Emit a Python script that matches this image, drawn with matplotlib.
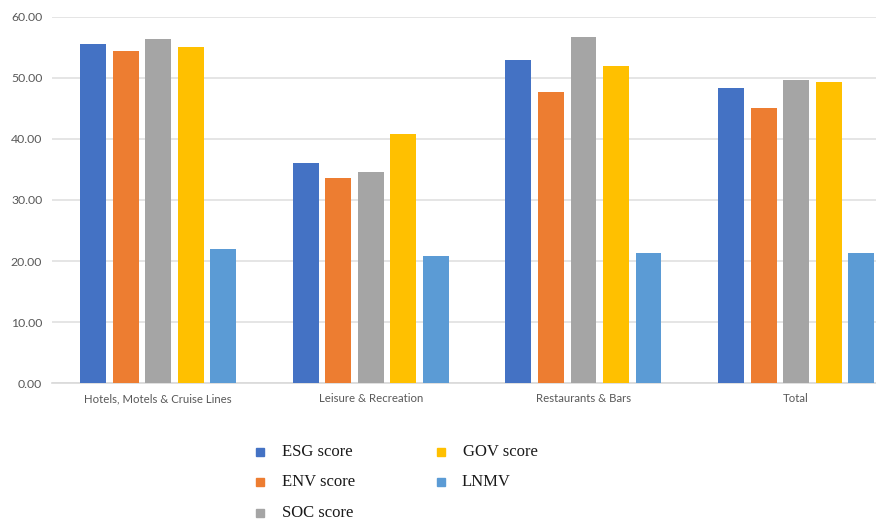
import matplotlib
matplotlib.use("Agg")
import matplotlib.pyplot as plt
from matplotlib.patches import Rectangle
import numpy as np

categories = ["Hotels, Motels & Cruise Lines", "Leisure & Recreation", "Restaurants & Bars", "Total"]
series_names = ["ESG score", "ENV score", "SOC score", "GOV score", "LNMV"]
esg = [55.5, 36.1, 52.9, 48.3]
env = [54.4, 33.6, 47.7, 45.1]
soc = [56.4, 34.6, 56.7, 49.6]
gov = [55.1, 40.8, 51.9, 49.3]
lnmv = [22.0, 20.8, 21.4, 21.4]
yticks = [0, 10, 20, 30, 40, 50, 60]

series = [esg, env, soc, gov, lnmv]
colors = ["#4472C4", "#ED7D31", "#A5A5A5", "#FFC000", "#5B9BD5"]

W, H = 876, 521
fig = plt.figure(figsize=(W / 100, H / 100), dpi=100)
ax = fig.add_axes([52 / W, (H - 383.3) / H, 1 - 52 / W, (383.3 - 16.7) / H])

x = np.arange(len(categories))
step = 0.153
width = 0.122
for i, (vals, c) in enumerate(zip(series, colors)):
    ax.bar(x + (i - 2) * step, vals, width=width, color=c, zorder=3)

ax.set_xlim(-0.5, 3.376)
ax.set_ylim(0, 60)
ax.set_yticks(yticks)
ax.set_yticklabels([f"{v:.2f}" for v in yticks])
ax.set_xticks(x)
ax.set_xticklabels(categories)
ax.grid(axis="y", color="#e0e0e0", linewidth=1.2, zorder=0)
for s in ["top", "right", "left"]:
    ax.spines[s].set_visible(False)
ax.spines["bottom"].set_color("#d9d9d9")
ax.spines["bottom"].set_linewidth(1.2)
ax.tick_params(axis="both", length=0, colors="#595959")
ax.tick_params(axis="y", pad=7, labelsize=8.8)
ax.tick_params(axis="x", pad=7, labelsize=8.2)
for lbl in ax.get_xticklabels() + ax.get_yticklabels():
    lbl.set_family("Lato")

# legend laid out in two columns below the plot
legend_pos = [(256, 452), (256, 482), (256, 513), (437, 452), (437, 482)]
for name, c, (px, py) in zip(series_names, colors, legend_pos):
    sz = 8
    fig.add_artist(Rectangle((px / W, (H - py - sz / 2) / H), sz / W, sz / H,
                             transform=fig.transFigure, color=c))
    tx = px + 26 if name != "LNMV" else px + 25
    fig.text(tx / W, (H - py) / H, name, family="Liberation Serif", fontsize=12,
             va="center", ha="left", color="#1a1a1a")

fig.savefig("out.png", dpi=100)
